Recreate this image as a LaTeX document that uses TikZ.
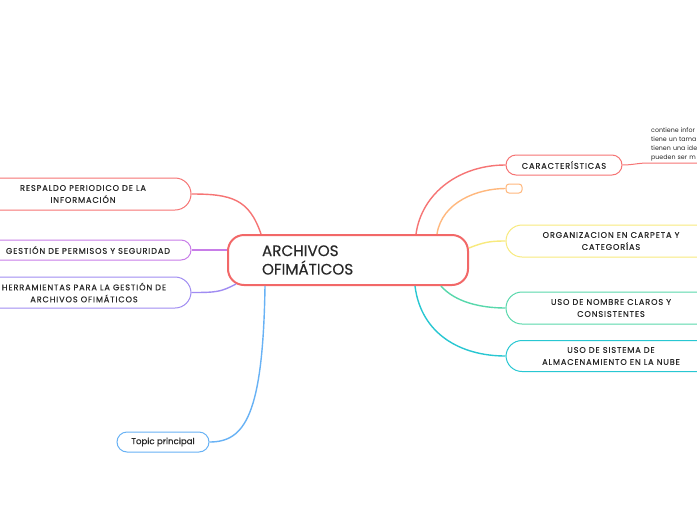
\documentclass[tikz,border=0pt]{standalone}
\usepackage{fontspec}
\setmainfont{Poppins}
\usepackage{tikz}
\usetikzlibrary{calc, positioning}
\definecolor{rootC}{RGB}{242, 104, 104}
\definecolor{brRed}{RGB}{246, 116, 116}
\definecolor{brOrange}{RGB}{255, 184, 125}
\definecolor{brYellow}{RGB}{248, 234, 125}
\definecolor{brGreen}{RGB}{88, 216, 172}
\definecolor{brCyan}{RGB}{40, 199, 210}
\definecolor{brPurple}{RGB}{200, 125, 232}
\definecolor{brViolet}{RGB}{160, 140, 242}
\definecolor{brBlue}{RGB}{104, 178, 245}
\definecolor{txt}{RGB}{40, 40, 40}

\begin{document}
\begin{tikzpicture}[x=1pt, y=-1pt, font=\small,
  topic/.style={draw, line width=1pt, rounded corners=10pt, fill=white, inner sep=0pt,
    align=center, text=txt, font=\fontsize{8.2}{12}\selectfont\addfontfeatures{LetterSpace=10.5, FakeBold=0.3}},
  link/.style={line width=1.4pt}]
  \useasboundingbox (0,0) rectangle (697,520);
  \clip (0,0) rectangle (697,520);
  \fill[white] (0,0) rectangle (697,520);

  % Central topic
  \node[draw=rootC, line width=2pt, rounded corners=16pt, text=txt, fill=white,
    minimum width=240pt, minimum height=50pt, inner xsep=34pt, text width=172pt, align=left,
    font=\fontsize{15.2}{18.5}\selectfont\addfontfeatures{FakeBold=0.3}] (arch) at (348,260) {ARCHIVOS\\OFIMÁTICOS};

  % Right side
  \node[topic, draw=brRed, minimum width=116pt, minimum height=20pt] (car) at (564,165) {CARACTERÍSTICAS};
  \node[topic, draw=brOrange, rounded corners=3pt, minimum width=16pt, minimum height=9pt] (vac) at (514,188.5) {};
  \node[topic, draw=brYellow, rounded corners=16pt, minimum width=210pt, minimum height=32pt] (org) at (611,241)
    {ORGANIZACION EN CARPETA Y\\CATEGORÍAS};
  \node[topic, draw=brGreen, rounded corners=16pt, minimum width=210pt, minimum height=32pt] (nom) at (611,308)
    {USO DE NOMBRE CLAROS Y\\CONSISTENTES};
  \node[topic, draw=brCyan, rounded corners=16pt, minimum width=210pt, minimum height=31pt] (sis) at (611,356)
    {USO DE SISTEMA DE\\ALMACENAMIENTO EN LA NUBE};

  % Left side
  \node[topic, draw=brRed, rounded corners=16pt, minimum width=216pt, minimum height=32pt] (res) at (83,194)
    {RESPALDO PERIODICO DE LA\\INFORMACIÓN};
  \node[topic, draw=brPurple, minimum width=206pt, minimum height=20pt] (ges) at (88,250)
    {GESTIÓN DE PERMISOS Y SEGURIDAD};
  \node[topic, draw=brViolet, rounded corners=16pt, minimum width=214pt, minimum height=31pt] (her) at (84,292.5)
    {HERRAMIENTAS PARA LA GESTIÓN DE\\ARCHIVOS OFIMÁTICOS};
  \node[topic, draw=brBlue, minimum width=92pt, minimum height=20pt,
    font=\fontsize{8.6}{12}\selectfont\addfontfeatures{FakeBold=0.3}] (top) at (163,442) {Topic principal};

  % Note under CARACTERISTICAS
  \node[anchor=south west, inner sep=0pt, text=txt, align=left, text width=90pt,
    font=\fontsize{6.3}{9}\selectfont] (desc) at (651,161)
    {contiene infor\\tiene un tama\\tienen una ide\\pueden ser m};
  \coordinate (descL) at ($(desc.south west)+(-3,2)$);

  % Connectors
  \draw[link, brRed] ([xshift=68pt]arch.north) .. controls +(6,-42) and +(-45,0) .. (car.west);
  \draw[link, brRed, line width=1pt] (car.east) .. controls +(10,0) and +(-10,0) .. (descL) -- ++(120,0);
  \draw[link, brOrange] ([xshift=89pt]arch.north) .. controls +(5,-32) and +(-28,0) .. (vac.west);
  \draw[link, brYellow] ([yshift=12pt]arch.east) .. controls +(15,-6) and +(-15,0) .. (org.west);
  \draw[link, brGreen] ([xshift=93pt]arch.south) .. controls +(14,16) and +(-25,0) .. (nom.west);
  \draw[link, brCyan] ([xshift=67pt]arch.south) .. controls +(6,48) and +(-45,0) .. (sis.west);
  \draw[link, brRed] ([xshift=-87pt]arch.north) .. controls +(-12,-35) and +(40,0) .. (res.east);
  \draw[link, brPurple] ([yshift=10pt]arch.west) .. controls +(-15,0) and +(15,0) .. (ges.east);
  \draw[link, brViolet] ([xshift=9pt, yshift=2pt]arch.south west) .. controls +(-15,8) and +(25,0) .. (her.east);
  \draw[link, brBlue] ([xshift=-83pt]arch.south) .. controls +(-2,130) and +(35,0) .. (top.east);
\end{tikzpicture}
\end{document}
